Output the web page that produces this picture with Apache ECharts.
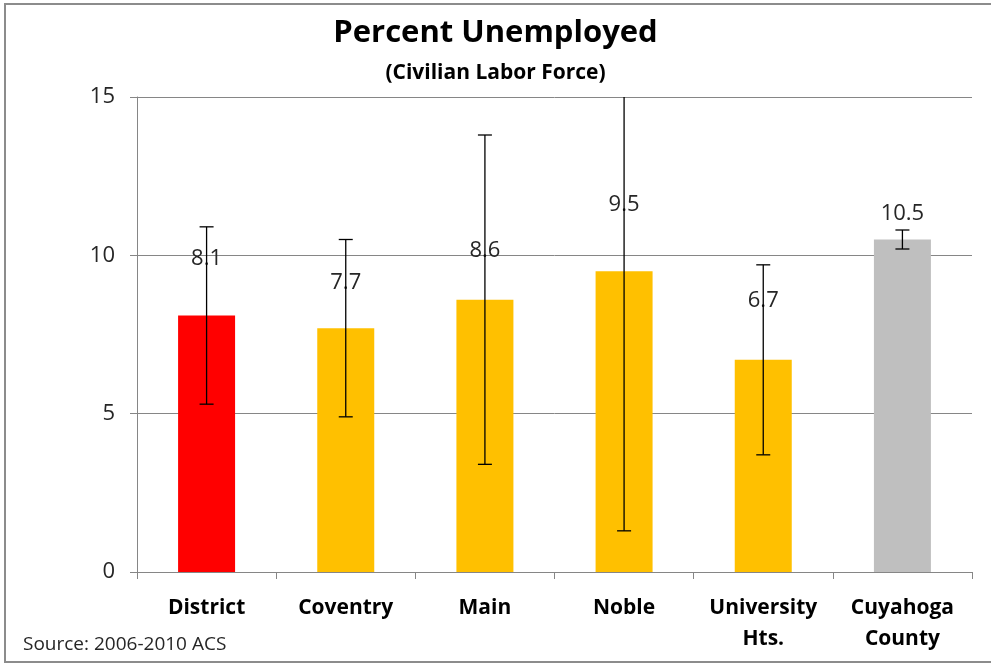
<!DOCTYPE html>
<html>
<head>
<meta charset="utf-8">
<script src="https://cdn.jsdelivr.net/npm/echarts@6/dist/echarts.min.js"></script>
<style>
html,body{margin:0;padding:0;background:#fff;}
#chart{width:991px;height:665px;}
</style>
</head>
<body>
<div id="chart"></div>
<script>
// ---- Data ----
var categories = ['District', 'Coventry', 'Main', 'Noble', 'University\nHts.', 'Cuyahoga\nCounty'];
var unemployed = [8.1, 7.7, 8.6, 9.5, 6.7, 10.5];
var marginOfError = [2.8, 2.8, 5.2, 8.2, 3.0, 0.3];
var yTicks = [0, 5, 10, 15];

// ---- Styles (not data) ----
var barColors = ['#FF0000', '#FFC000', '#FFC000', '#FFC000', '#FFC000', '#BFBFBF'];
var labelDistances = [46, 34, 38, 55, 48, 15];
var FONT = '"Open Sans", "Noto Sans", sans-serif';

var barData = unemployed.map(function (v, i) {
  return {
    value: v,
    itemStyle: { color: barColors[i] },
    label: { distance: labelDistances[i] }
  };
});
var errData = unemployed.map(function (v, i) {
  return [i, v, marginOfError[i]];
});

var chart = echarts.init(document.getElementById('chart'), null, { renderer: 'canvas' });
var option = {
  animation: false,
  backgroundColor: '#fff',
  title: [
    {
      text: 'Percent Unemployed',
      left: 'center', top: 13,
      textStyle: { fontFamily: FONT, fontSize: 31, fontWeight: 'bold', color: '#000' }
    },
    {
      text: '(Civilian Labor Force)',
      left: 'center', top: 58,
      textStyle: { fontFamily: FONT, fontSize: 21, fontWeight: 'bold', color: '#000' }
    },
    {
      text: 'Source: 2006-2010 ACS',
      left: 18, top: 630,
      textStyle: { fontFamily: FONT, fontSize: 19, fontWeight: 'normal', color: '#262626' }
    }
  ],
  graphic: [{
    type: 'rect',
    shape: { x: 5, y: 4, width: 995, height: 658 },
    style: { fill: 'none', stroke: '#8c8c8c', lineWidth: 2 },
    silent: true, z: 100
  }],
  grid: { left: 137, right: 19, top: 97, bottom: 93, containLabel: false },
  xAxis: {
    type: 'category',
    data: categories,
    axisLine: { lineStyle: { color: '#868686', width: 1 } },
    axisTick: { show: true, length: 7, lineStyle: { color: '#868686' } },
    axisLabel: {
      interval: 0, margin: 21,
      fontFamily: FONT, fontSize: 21, fontWeight: 'bold', color: '#000',
      lineHeight: 31
    }
  },
  yAxis: {
    type: 'value',
    min: yTicks[0], max: yTicks[yTicks.length - 1], interval: yTicks[1] - yTicks[0],
    axisLine: { show: true, lineStyle: { color: '#868686', width: 1 } },
    axisTick: { show: true, length: 7, lineStyle: { color: '#868686' } },
    splitLine: { show: true, lineStyle: { color: '#868686', width: 1 } },
    axisLabel: { margin: 22, fontFamily: FONT, fontSize: 22, color: '#262626' }
  },
  series: [
    {
      type: 'bar',
      data: barData,
      barWidth: 57,
      label: {
        show: true, position: 'top',
        fontFamily: FONT, fontSize: 22, color: '#262626',
        formatter: function (p) { return p.value.toFixed(1); }
      },
      z: 2
    },
    {
      type: 'custom',
      data: errData,
      clip: true,
      z: 5,
      renderItem: function (params, api) {
        var x = api.value(0), v = api.value(1), e = api.value(2);
        var top = api.coord([x, v + e]);
        var bot = api.coord([x, v - e]);
        var half = 7;
        var st = { stroke: '#000', lineWidth: 1.3 };
        return {
          type: 'group',
          children: [
            { type: 'line', shape: { x1: top[0], y1: top[1], x2: bot[0], y2: bot[1] }, style: st },
            { type: 'line', shape: { x1: top[0] - half, y1: top[1], x2: top[0] + half, y2: top[1] }, style: st },
            { type: 'line', shape: { x1: bot[0] - half, y1: bot[1], x2: bot[0] + half, y2: bot[1] }, style: st }
          ]
        };
      }
    }
  ]
};
chart.setOption(option);
</script>
</body>
</html>
